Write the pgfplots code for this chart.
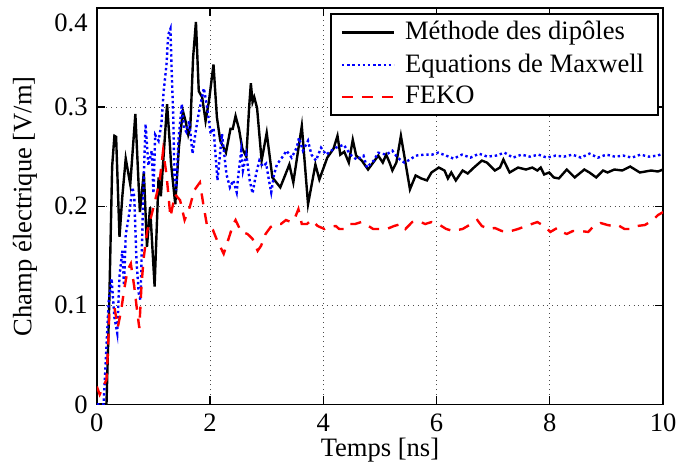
\documentclass[border=0pt]{standalone}
\usepackage{fontspec}
\setmainfont{Liberation Serif}
\usepackage{pgfplots}
\pgfplotsset{compat=1.18}

\begin{document}
\fontsize{13.3}{16}\selectfont
\begin{tikzpicture}
\begin{axis}[
    width=283.5pt, height=198.5pt, scale only axis,
    xmin=0, xmax=10, ymin=0, ymax=0.4,
    xtick={0,2,4,6,8,10},
    ytick={0,0.1,0.2,0.3,0.4},
    yticklabels={0,0.1,0.2,0.3,\raisebox{-7.5pt}[9pt][0pt]{0.4}},
    /pgf/number format/assume math mode=true,
    tick label style={font=\fontsize{13.3}{16}\selectfont},
    label style={font=\fontsize{13.3}{16}\selectfont},
    xlabel={Temps [ns]},
    ylabel={Champ électrique [V/m]},
    x label style={at={(axis description cs:0.5,-0.116)}, anchor=center},
    y label style={at={(axis description cs:-0.127,0.5)}, anchor=center},
    grid=major,
    grid style={dotted, gray!60!black, line width=0.5pt},
    tick align=inside,
    major tick length=4pt,
    tick style={black, line width=0.6pt},
    axis line style={line width=0.8pt},
    legend cell align=left,
    legend image code/.code={\draw[#1] (0pt,0pt) -- (26pt,0pt); \path (29pt,0pt);},
    legend style={at={(rel axis cs:0.993,0.987)}, anchor=north east,
        draw=black, line width=1pt, font=\fontsize{13.3}{16}\selectfont,
        inner xsep=5pt, inner ysep=1.5pt, row sep=1pt},
]

\addplot[black, line width=1.2pt] coordinates {
(0,0) (0.17,0) (0.22,0.105) (0.27,0.24) (0.31,0.271) (0.34,0.27) (0.40,0.169)
(0.45,0.21) (0.51,0.248) (0.59,0.222) (0.68,0.293) (0.76,0.194) (0.83,0.234)
(0.885,0.159) (0.94,0.199) (1.02,0.119) (1.09,0.229) (1.13,0.21) (1.19,0.26)
(1.24,0.303) (1.29,0.262) (1.31,0.243) (1.385,0.202) (1.45,0.26) (1.52,0.296)
(1.57,0.285) (1.615,0.272) (1.65,0.279) (1.70,0.35) (1.75,0.386) (1.80,0.316)
(1.86,0.31) (1.92,0.286) (1.98,0.306) (2.06,0.343) (2.12,0.29) (2.18,0.266)
(2.28,0.254) (2.36,0.278) (2.40,0.278) (2.45,0.291) (2.51,0.278) (2.57,0.258)
(2.64,0.25) (2.69,0.3) (2.72,0.324) (2.75,0.305) (2.78,0.31) (2.83,0.299)
(2.91,0.246) (3.00,0.274) (3.10,0.229) (3.24,0.219) (3.40,0.242) (3.47,0.224)
(3.62,0.281) (3.73,0.202) (3.86,0.242) (3.93,0.227) (4.07,0.249) (4.18,0.258)
(4.25,0.271) (4.30,0.252) (4.37,0.255) (4.45,0.244) (4.52,0.267) (4.58,0.251)
(4.68,0.246) (4.79,0.237) (4.88,0.244) (4.97,0.251) (5.05,0.244) (5.11,0.252)
(5.17,0.244) (5.22,0.236) (5.29,0.244) (5.37,0.271) (5.43,0.251) (5.53,0.217)
(5.63,0.231) (5.73,0.228) (5.83,0.226) (5.91,0.234) (6.04,0.239) (6.14,0.236)
(6.20,0.228) (6.26,0.234) (6.34,0.226) (6.46,0.236) (6.55,0.233) (6.66,0.239)
(6.80,0.246) (6.89,0.244) (7.03,0.236) (7.12,0.239) (7.18,0.247) (7.29,0.234)
(7.44,0.239) (7.58,0.237) (7.69,0.239) (7.78,0.236) (7.84,0.239) (7.90,0.232)
(7.99,0.234) (8.07,0.229) (8.16,0.228) (8.30,0.237) (8.44,0.229) (8.61,0.237)
(8.70,0.234) (8.82,0.229) (8.94,0.236) (9.02,0.234) (9.14,0.237) (9.28,0.236)
(9.42,0.240) (9.59,0.234) (9.79,0.236) (9.91,0.235) (10,0.237)
};
\addlegendentry{Méthode des dipôles}

\addplot[blue, line width=1.2pt, dash pattern=on 1.2pt off 1.4pt] coordinates {
(0,0) (0.12,0) (0.21,0.105) (0.26,0.127) (0.31,0.088) (0.36,0.072) (0.40,0.13)
(0.45,0.155) (0.48,0.12) (0.51,0.171) (0.57,0.192) (0.63,0.219) (0.66,0.21)
(0.70,0.145) (0.74,0.112) (0.77,0.105) (0.83,0.232) (0.86,0.283) (0.91,0.241)
(0.97,0.256) (1.00,0.213) (1.03,0.272) (1.09,0.266) (1.14,0.283) (1.18,0.316)
(1.23,0.343) (1.26,0.373) (1.30,0.379) (1.32,0.339) (1.35,0.289) (1.37,0.232)
(1.40,0.216) (1.44,0.266) (1.50,0.303) (1.54,0.279) (1.58,0.275) (1.63,0.286)
(1.69,0.253) (1.75,0.277) (1.80,0.294) (1.89,0.319) (1.95,0.299) (2.01,0.273)
(2.06,0.279) (2.13,0.226) (2.21,0.273) (2.29,0.232) (2.35,0.219) (2.41,0.226)
(2.47,0.214) (2.50,0.232) (2.55,0.256) (2.58,0.236) (2.64,0.252) (2.70,0.226)
(2.75,0.213) (2.81,0.232) (2.87,0.246) (2.93,0.24) (2.99,0.243) (3.04,0.226)
(3.08,0.214) (3.13,0.232) (3.18,0.242) (3.27,0.249) (3.35,0.256) (3.44,0.249)
(3.53,0.259) (3.57,0.269) (3.64,0.256) (3.73,0.266) (3.79,0.252) (3.87,0.246)
(3.96,0.259) (4.05,0.252) (4.14,0.256) (4.22,0.259) (4.36,0.262) (4.48,0.252)
(4.59,0.247) (4.71,0.251) (4.77,0.239) (4.89,0.246) (4.97,0.254) (5.11,0.252)
(5.22,0.256) (5.31,0.249) (5.43,0.244) (5.53,0.247) (5.63,0.251) (5.78,0.252)
(5.92,0.252) (6.03,0.254) (6.17,0.251) (6.3,0.248) (6.45,0.252) (6.6,0.249)
(6.75,0.253) (6.9,0.25) (7.05,0.251) (7.2,0.254) (7.35,0.249) (7.5,0.252)
(7.65,0.25) (7.8,0.252) (7.95,0.249) (8.1,0.251) (8.25,0.25) (8.4,0.252)
(8.55,0.249) (8.7,0.253) (8.85,0.249) (9.0,0.252) (9.15,0.25) (9.3,0.251)
(9.45,0.249) (9.6,0.252) (9.75,0.25) (9.9,0.251) (10,0.253)
};
\addlegendentry{Equations de Maxwell}

\addplot[red, line width=1.2pt, dash pattern=on 5.5pt off 4.5pt] coordinates {
(0,0.018) (0.05,0.01) (0.17,0.025) (0.20,0.06) (0.22,0.092) (0.26,0.095)
(0.31,0.098) (0.37,0.078) (0.43,0.095) (0.48,0.115) (0.54,0.135) (0.60,0.142)
(0.66,0.119) (0.71,0.095) (0.75,0.077) (0.79,0.122) (0.83,0.149) (0.89,0.175)
(0.97,0.192) (1.06,0.213) (1.11,0.226) (1.17,0.256) (1.23,0.232) (1.30,0.189)
(1.38,0.212) (1.47,0.206) (1.55,0.186) (1.64,0.199) (1.72,0.216) (1.82,0.224)
(1.88,0.202) (1.95,0.179) (2.05,0.176) (2.12,0.166) (2.24,0.152) (2.32,0.166)
(2.41,0.182) (2.45,0.186) (2.50,0.18) (2.55,0.174) (2.66,0.172) (2.75,0.167)
(2.84,0.155) (2.90,0.16) (2.98,0.172) (3.07,0.179) (3.16,0.182) (3.25,0.182)
(3.34,0.186) (3.43,0.184) (3.49,0.187) (3.56,0.197) (3.62,0.182) (3.71,0.182)
(3.79,0.186) (3.90,0.180) (4.02,0.177) (4.10,0.179) (4.22,0.180) (4.28,0.177)
(4.36,0.177) (4.45,0.182) (4.56,0.182) (4.67,0.184) (4.77,0.181) (4.88,0.177)
(5.00,0.177) (5.12,0.177) (5.25,0.18) (5.37,0.182) (5.45,0.177) (5.57,0.184)
(5.68,0.185) (5.80,0.182) (5.91,0.184) (6.03,0.182) (6.17,0.177) (6.29,0.175)
(6.46,0.177) (6.55,0.18) (6.72,0.186) (6.80,0.18) (6.92,0.177) (7.03,0.178)
(7.15,0.175) (7.26,0.174) (7.44,0.177) (7.58,0.180) (7.68,0.182) (7.78,0.184)
(7.90,0.18) (8.01,0.174) (8.13,0.178) (8.21,0.174) (8.30,0.172) (8.41,0.175)
(8.53,0.175) (8.68,0.174) (8.76,0.179) (8.90,0.183) (9.02,0.181) (9.11,0.18)
(9.20,0.181) (9.32,0.177) (9.43,0.177) (9.54,0.18) (9.68,0.181) (9.82,0.186)
(9.91,0.191) (10,0.194)
};
\addlegendentry{FEKO}
\end{axis}
\pgfresetboundingbox
\path[use as bounding box] ([shift={(-48.5pt,-32pt)}]current axis.south west)
    rectangle ([shift={(7pt,4pt)}]current axis.north east);
\end{tikzpicture}
\end{document}
